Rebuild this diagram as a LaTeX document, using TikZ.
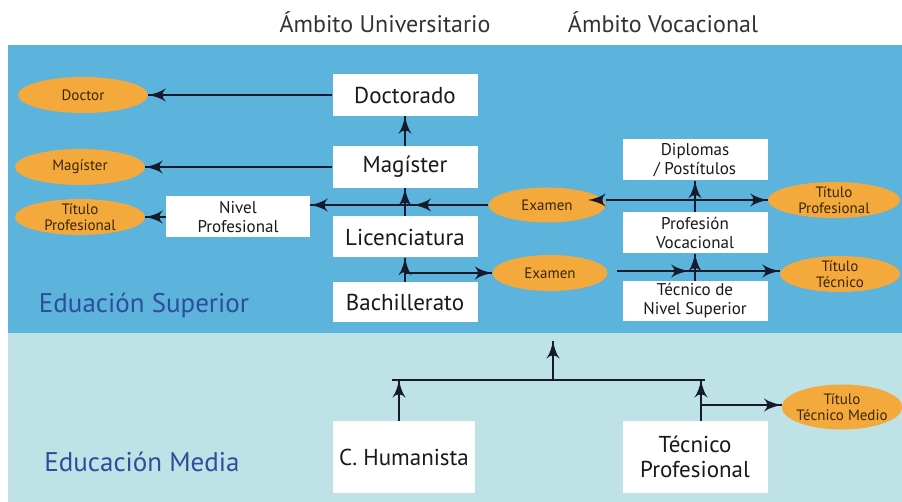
\documentclass[tikz,border=0pt]{standalone}
\usepackage{fontspec}
\setmainfont{PT Sans}
\usetikzlibrary{positioning,shapes,arrows,decorations.markings}
\definecolor{supblue}{HTML}{5CB3DB}
\definecolor{medblue}{HTML}{BEE2E6}
\definecolor{degorange}{HTML}{F3A93C}
\definecolor{linec}{HTML}{151A2C}
\definecolor{labblue}{HTML}{2D4E98}
\definecolor{degtext}{HTML}{3A2606}
\tikzset{
basic/.style  = {fill=white, align=center, rectangle, text=black!90, inner sep=1pt},
bigbox/.style = {basic, minimum width=145pt, minimum height=42pt, font=\fontsize{23}{25}\selectfont},
smallbox/.style = {basic, minimum width=145pt, minimum height=41pt, font=\fontsize{17}{19}\selectfont},
degree/.style = {fill=degorange, ellipse, inner sep=-3pt, minimum width=130pt, minimum height=36pt, align=center, text=degtext, font=\fontsize{15}{16}\selectfont},
seclabel/.style = {text=labblue, font=\fontsize{27}{29}\selectfont},
header/.style = {text=black!80, font=\fontsize{24}{26}\selectfont},
link/.style = {draw=linec, line width=2pt},
flow/.style = {link, decoration={markings, mark=at position 1 with {\arrow[scale=2]{>}}}, postaction={decorate}},
midflow/.style = {link, decoration={markings, mark=at position #1 with {\arrow[scale=2]{>}}, mark=at position 1 with {\arrow[scale=2]{>}}}, postaction={decorate}},
twoflow/.style = {link, decoration={markings, mark=at position 0 with {\arrow[scale=2]{<}}, mark=at position 1 with {\arrow[scale=2]{>}}}, postaction={decorate}}
}

\begin{document}
\begin{tikzpicture}[x=1pt, y=-1pt, >=latex']

	\useasboundingbox (0,0) rectangle (902,502);
	\fill[supblue] (8,45) rectangle (902,333);
	\fill[medblue] (8,333) rectangle (902,502);

	\node[header] (huniv) at (385,22) {Ámbito Universitario};
	\node[header] (hvoc) at (663,22) {Ámbito Vocacional};
	\node[seclabel] (lsup) at (144,305) {Eduación Superior};
	\node[seclabel] (lmed) at (142,462) {Educación Media};

	\node[bigbox] (doc) at (405,95) {Doctorado};
	\node[bigbox] (mag) at (405,167) {Magíster};
	\node[bigbox, minimum height=41pt] (lic) at (405,237) {Licenciatura};
	\node[bigbox, minimum height=40pt] (bach) at (405,302) {Bachillerato};
	\node[smallbox, minimum width=144pt] (nivel) at (238,217) {Nivel\\Profesional};
	\node[smallbox] (dipl) at (695,160) {Diplomas\\/ Postítulos};
	\node[smallbox] (prof) at (695,233) {Profesión\\Vocacional};
	\node[smallbox, minimum height=40pt] (tns) at (695,301) {Técnico de\\Nivel Superior};
	\node[bigbox, minimum width=142pt, minimum height=72pt] (hum) at (404,457) {C. Humanista};
	\node[bigbox, minimum height=72pt] (tprof) at (695,457) {Técnico\\Profesional};

	\node[degree] (edoc) at (83,95) {Doctor};
	\node[degree] (emag) at (80,167) {Magíster};
	\node[degree] (etpl) at (80,217) {Título\\Profesional};
	\node[degree, minimum width=117pt, minimum height=35pt] (ex1) at (547,205) {Examen};
	\node[degree, minimum width=115pt] (ex2) at (550,273) {Examen};
	\node[degree, minimum width=132pt] (etpr) at (834,200) {Título\\Profesional};
	\node[degree, minimum width=120pt] (ett) at (840,274) {Título\\Técnico};
	\node[degree, minimum width=120pt, minimum height=45pt] (ettm) at (842,407) {Título\\Técnico Medio};

	\coordinate (bl) at (405,273);
	\coordinate (ts) at (617,271);
	\coordinate (jh) at (399,380);
	\coordinate (jt) at (701,380);
	\coordinate (jm) at (701,405);
	\coordinate (up) at (553,341);

	\draw[flow] (doc.west) -- (edoc.east);
	\draw[flow] (mag.west) -- (emag.east);
	\draw[flow] (mag.north) -- (doc.south);
	\draw[flow] (lic.north) -- (mag.south);
	\draw[midflow=0.42] (ex1.west) -- (ex1.west -| nivel.east);
	\draw[flow] (nivel.west) -- (etpl.east);
	\draw[flow] (bach.north) -- (lic.south);
	\draw[flow] (bl) -- (bl -| ex2.west);

	\draw[twoflow] (etpr.west -| ex1.east) -- (etpr.west);
	\draw[flow] (prof.north) -- (dipl.south);
	\draw[flow] (tns.north) -- (prof.south);
	\draw[midflow=0.44] (ts) -- (ts -| ett.west);

	\draw[link] ([xshift=-7pt]jh) -- ([xshift=4pt]jt);
	\draw[flow] (hum.north -| jh) -- (jh);
	\draw[flow] (tprof.north -| jt) -- (jt);
	\draw[flow] (up |- jh) -- (up);
	\draw[flow] (jm) -- (jm -| ettm.west);

\end{tikzpicture}
\end{document}
